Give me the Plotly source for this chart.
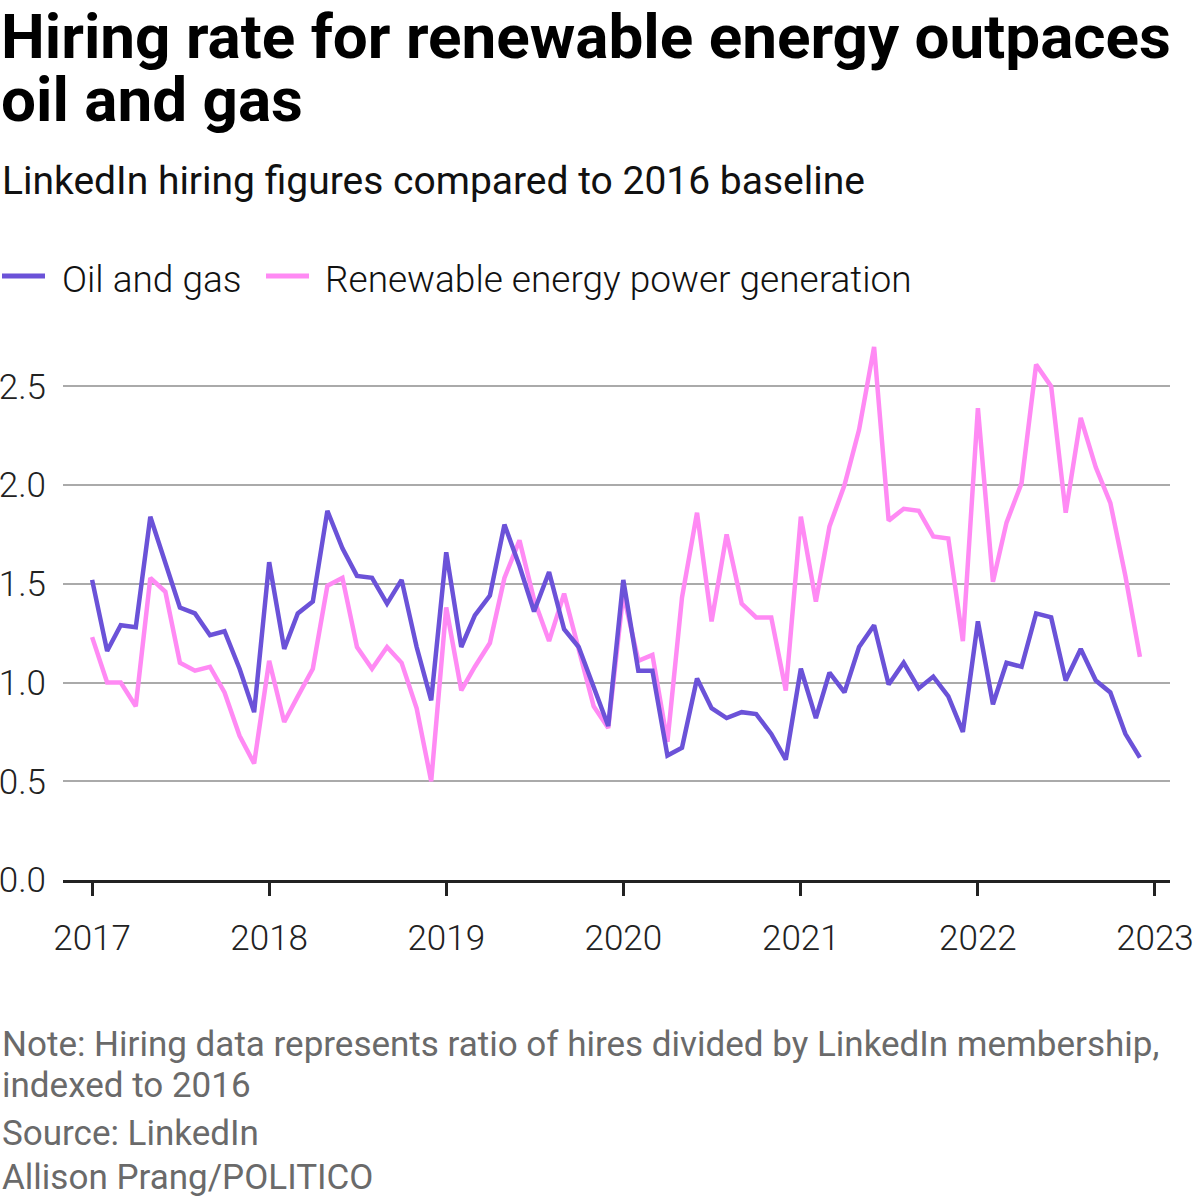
import plotly.graph_objects as go

months = [
    "2017-01-01","2017-02-01","2017-03-01","2017-04-01","2017-05-01","2017-06-01",
    "2017-07-01","2017-08-01","2017-09-01","2017-10-01","2017-11-01","2017-12-01",
    "2018-01-01","2018-02-01","2018-03-01","2018-04-01","2018-05-01","2018-06-01",
    "2018-07-01","2018-08-01","2018-09-01","2018-10-01","2018-11-01","2018-12-01",
    "2019-01-01","2019-02-01","2019-03-01","2019-04-01","2019-05-01","2019-06-01",
    "2019-07-01","2019-08-01","2019-09-01","2019-10-01","2019-11-01","2019-12-01",
    "2020-01-01","2020-02-01","2020-03-01","2020-04-01","2020-05-01","2020-06-01",
    "2020-07-01","2020-08-01","2020-09-01","2020-10-01","2020-11-01","2020-12-01",
    "2021-01-01","2021-02-01","2021-03-01","2021-04-01","2021-05-01","2021-06-01",
    "2021-07-01","2021-08-01","2021-09-01","2021-10-01","2021-11-01","2021-12-01",
    "2022-01-01","2022-02-01","2022-03-01","2022-04-01","2022-05-01","2022-06-01",
    "2022-07-01","2022-08-01","2022-09-01","2022-10-01","2022-11-01","2022-12-01",
]

oil_and_gas = [
    1.52, 1.16, 1.29, 1.28, 1.84, 1.61, 1.38, 1.35, 1.24, 1.26, 1.07, 0.85,
    1.61, 1.17, 1.35, 1.41, 1.87, 1.68, 1.54, 1.53, 1.40, 1.52, 1.18, 0.91,
    1.66, 1.18, 1.34, 1.44, 1.80, 1.59, 1.36, 1.56, 1.27, 1.18, 0.97, 0.78,
    1.52, 1.06, 1.06, 0.63, 0.67, 1.02, 0.87, 0.82, 0.85, 0.84, 0.74, 0.61,
    1.07, 0.82, 1.05, 0.95, 1.18, 1.29, 0.99, 1.10, 0.97, 1.03, 0.93, 0.75,
    1.31, 0.89, 1.10, 1.08, 1.35, 1.33, 1.01, 1.17, 1.01, 0.95, 0.74, 0.62,
]

renewable = [
    1.23, 1.00, 1.00, 0.88, 1.53, 1.46, 1.10, 1.06, 1.08, 0.95, 0.73, 0.59,
    1.11, 0.80, 0.93, 1.07, 1.49, 1.53, 1.18, 1.07, 1.18, 1.10, 0.87, 0.50,
    1.38, 0.96, 1.08, 1.20, 1.53, 1.72, 1.42, 1.21, 1.45, 1.18, 0.88, 0.77,
    1.45, 1.11, 1.14, 0.70, 1.43, 1.86, 1.31, 1.75, 1.40, 1.33, 1.33, 0.96,
    1.84, 1.41, 1.79, 2.00, 2.28, 2.70, 1.82, 1.88, 1.87, 1.74, 1.73, 1.21,
    2.39, 1.51, 1.81, 2.01, 2.61, 2.50, 1.86, 2.34, 2.09, 1.91, 1.54, 1.13,
]

series_names = ["Oil and gas", "Renewable energy power generation"]
series_colors = ["#6b52d8", "#ff8af4"]

y_ticks = [0.0, 0.5, 1.0, 1.5, 2.0, 2.5]
y_tick_labels = ["0.0", "0.5", "1.0", "1.5", "2.0", "2.5"]
x_ticks = ["2017-01-01", "2018-01-01", "2019-01-01", "2020-01-01",
           "2021-01-01", "2022-01-01", "2023-01-01"]
x_tick_labels = ["2017", "2018", "2019", "2020", "2021", "2022", "2023"]

title_lines = ["Hiring rate for renewable energy outpaces", "oil and gas"]
subtitle_text = "LinkedIn hiring figures compared to 2016 baseline"
footer_lines = [
    "Note: Hiring data represents ratio of hires divided by LinkedIn membership,",
    "indexed to 2016",
    "Source: LinkedIn",
    "Allison Prang/POLITICO",
]

FONT = "Roboto"
W, H = 1200, 1200
L, R, T, B = 63, 30, 337, 320
PW, PH = W - L - R, H - T - B


def px_x(px):
    return (px - L) / PW


def px_y(py):
    return (H - B - py) / PH


fig = go.Figure()
fig.add_trace(go.Scatter(x=months, y=renewable, mode="lines", name=series_names[1],
                         line=dict(color=series_colors[1], width=4.5), showlegend=False))
fig.add_trace(go.Scatter(x=months, y=oil_and_gas, mode="lines", name=series_names[0],
                         line=dict(color=series_colors[0], width=4.5), showlegend=False))

annotations = []
for text, py in zip(title_lines, [36, 100]):
    annotations.append(dict(text="<b>" + text + "</b>", x=px_x(-1), y=px_y(py),
                            xanchor="left", yanchor="middle", align="left",
                            font=dict(size=62, color="#000000", family=FONT)))
annotations.append(dict(text=subtitle_text, x=px_x(0), y=px_y(181), xanchor="left",
                        yanchor="middle", align="left",
                        font=dict(size=39, color="#111111", family=FONT)))
for text, py in zip(footer_lines, [1044, 1085, 1133, 1177]):
    annotations.append(dict(text=text, x=px_x(0), y=px_y(py), xanchor="left",
                            yanchor="middle", align="left",
                            font=dict(size=35, color="#6a6a6a", family=FONT)))

shapes = []
legend_items = [(0, 47, 61), (264, 311, 324)]
for (x0, x1, tx), name, col in zip(legend_items, series_names, series_colors):
    shapes.append(dict(type="line", xref="paper", yref="paper",
                       x0=px_x(x0 + 2), x1=px_x(x1 - 2), y0=px_y(276), y1=px_y(276),
                       line=dict(color=col, width=5)))
    annotations.append(dict(text=name, x=px_x(tx - 1), y=px_y(279), xanchor="left",
                            yanchor="middle", align="left",
                            font=dict(size=37, color="#111111", family=FONT, weight=300)))

for a in annotations:
    a.update(xref="paper", yref="paper", showarrow=False)

fig.update_layout(
    width=W, height=H,
    margin=dict(l=L, r=R, t=T, b=B, pad=0, autoexpand=False),
    paper_bgcolor="white", plot_bgcolor="white",
    font=dict(family=FONT, color="#222222"),
    annotations=annotations,
    shapes=shapes,
    showlegend=False,
    hovermode=False,
)

fig.update_xaxes(
    type="date", automargin=False,
    range=["2016-11-02", "2023-02-01"],
    tickmode="array", tickvals=x_ticks, ticktext=x_tick_labels,
    ticks="outside", ticklen=13, tickwidth=3, tickcolor="#222222",
    tickfont=dict(size=35, color="#222222", family=FONT, weight=300),
    ticklabelstandoff=12,
    showgrid=False, showline=True, linecolor="#222222", linewidth=3,
    zeroline=False,
)
fig.update_yaxes(
    range=[0, 2.75], automargin=False,
    tickmode="array", tickvals=y_ticks, ticktext=y_tick_labels,
    ticks="", showline=False,
    tickfont=dict(size=35, color="#222222", family=FONT, weight=300),
    ticklabelstandoff=16,
    showgrid=True, gridcolor="#aaaaaa", gridwidth=2,
    zeroline=False,
)

fig.write_html(
    "out.html",
    config={"displayModeBar": False},
    post_script="document.body.style.margin='0';document.body.style.padding='0';",
)
